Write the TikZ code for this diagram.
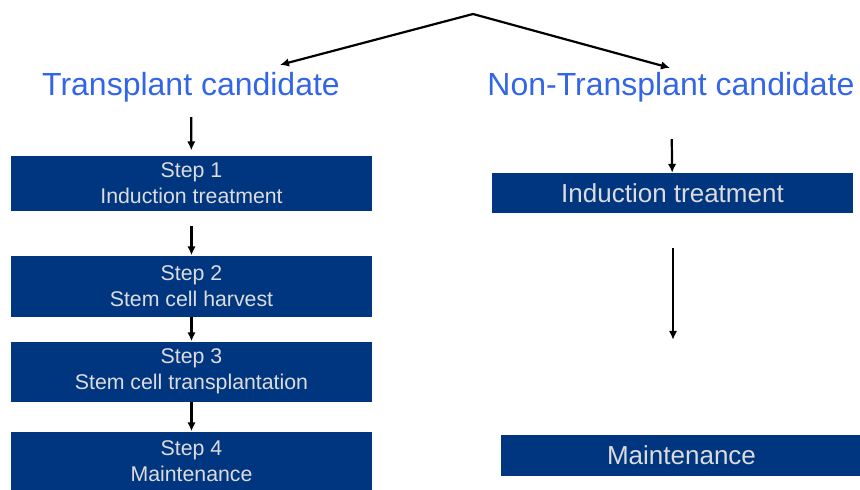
\documentclass[tikz,border=0pt]{standalone}
\usepackage{fontspec}
\setmainfont{Liberation Sans}
\usetikzlibrary{arrows.meta,positioning,calc}
\definecolor{StepBlue}{HTML}{003580}
\definecolor{StepText}{HTML}{DCDCDC}
\definecolor{CandBlue}{HTML}{3366E6}

\begin{document}
\begin{tikzpicture}[x=1pt,y=-1pt,>={Latex[length=9pt,width=8.5pt]}]
\tikzstyle{stepbox}=[rectangle,fill=StepBlue,text=StepText,minimum width=361pt,
                     inner sep=0pt,align=center,font=\fontsize{21.3}{26}\selectfont]
\tikzstyle{bigbox}=[stepbox,font=\fontsize{26}{30}\selectfont]
\tikzstyle{cand}=[text=CandBlue,inner sep=0pt,font=\fontsize{32}{38}\selectfont]
\tikzstyle{flow}=[->,line width=2.2pt]
\useasboundingbox (0,0) rectangle (860,490);
% the two kinds of candidate
\coordinate (split) at (473,14);
\node[cand] (tc) at (191,87) {Transplant candidate};
\node[cand] (ntc) at (671,87) {Non-Transplant candidate};
% transplant path
\node[stepbox,minimum height=55pt] (s1) at (191.5,183) {Step 1\\Induction treatment};
\node[stepbox,minimum height=61pt] (s2) at (191.5,286) {Step 2\\Stem cell harvest};
\node[stepbox,minimum height=60pt] (s3) at (191.5,371.5) {Step 3\\Stem cell transplantation};
\node[stepbox,minimum height=60pt] (s4) at (191.5,461.5) {Step 4\\Maintenance};
% non-transplant path
\node[bigbox,minimum height=40pt] (n1) at (672.5,193) {Induction treatment};
\node[bigbox,minimum height=41pt] (n2) at (681.5,455.5) {Maintenance};
\draw[flow] (split) -- ($(tc.north)+(89,-7)$);
\draw[flow] (split) -- ($(ntc.north)+(-1,-4)$);
\draw[flow,shorten <=15pt,shorten >=5pt] (tc) -- (s1);
\draw[flow,shorten <=15pt] (s1) -- (s2);
\draw[flow] (s2) -- (s3);
\draw[flow] (s3) -- (s4);
\draw[flow,shorten <=37pt] (ntc) -- (n1);
\draw[flow,shorten <=35pt,shorten >=95pt] (n1.south -| 673,0) -- (n2.north -| 673,0);
\end{tikzpicture}
\end{document}
